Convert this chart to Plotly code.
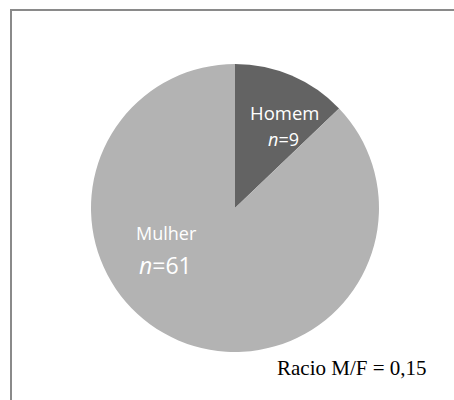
import plotly.graph_objects as go

# Sample composition by sex
categories = ["Homem", "Mulher"]
counts = [9, 61]
ratio_label = "0,15"

slice_colors = ["#636363", "#b3b3b3"]

W, H = 454, 400

fig = go.Figure()
fig.add_trace(go.Pie(
    labels=categories,
    values=counts,
    sort=False,
    direction="clockwise",
    rotation=0,
    marker=dict(colors=slice_colors, line=dict(width=0)),
    textinfo="none",
    hoverinfo="label+value",
    showlegend=False,
    domain=dict(x=[91 / W, 379 / W], y=[(H - 352) / H, (H - 64) / H]),
))

label_font = "Open Sans, Noto Sans, sans-serif"
# slice labels: name on top line, italic n = count below
label_pos = {
    "Homem": [(284, 113, 18.5), (283, 139, 18)],
    "Mulher": [(166, 233, 18), (165, 265, 23)],
}
for cat, n in zip(categories, counts):
    (x1, y1, s1), (x2, y2, s2) = label_pos[cat]
    fig.add_annotation(x=x1 / W, y=1 - y1 / H, xref="paper", yref="paper",
                       text=cat, showarrow=False,
                       font=dict(family=label_font, size=s1, color="white"),
                       xanchor="center", yanchor="middle")
    fig.add_annotation(x=x2 / W, y=1 - y2 / H, xref="paper", yref="paper",
                       text=f"<i>n</i>={n}", showarrow=False,
                       font=dict(family=label_font, size=s2, color="white"),
                       xanchor="center", yanchor="middle")

fig.add_annotation(x=352 / W, y=1 - 368 / H, xref="paper", yref="paper",
                   text=f"Racio M/F = {ratio_label}", showarrow=False,
                   font=dict(family="Liberation Serif, Times New Roman, serif",
                             size=21, color="black"),
                   xanchor="center", yanchor="middle")

# chart frame (right and bottom edges fall outside the canvas)
fig.add_shape(type="rect", xref="paper", yref="paper",
              x0=11 / W, x1=1.2, y0=-0.2, y1=1 - 10 / H,
              line=dict(color="#8a8a8a", width=2), fillcolor="rgba(0,0,0,0)")

fig.update_layout(
    width=W, height=H,
    margin=dict(l=0, r=0, t=0, b=0),
    paper_bgcolor="white",
    plot_bgcolor="white",
)

fig.write_html("out.html")
